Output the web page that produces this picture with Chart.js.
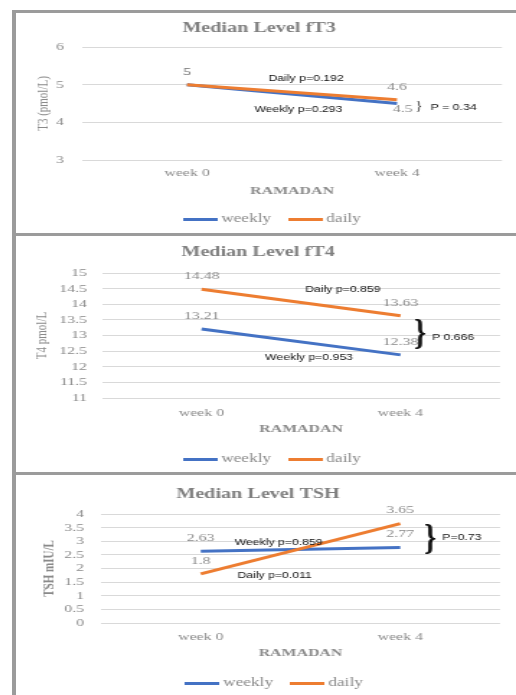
<!DOCTYPE html>
<html>
<head>
<meta charset="utf-8">
<script src="https://cdn.jsdelivr.net/npm/chart.js@4.4.1/dist/chart.umd.min.js"></script>
<style>
html, body { margin: 0; padding: 0; background: #fff; width: 516px; height: 695px; overflow: hidden; position: relative; }
.rule { position: absolute; background: #9b9b9b; }
canvas.chart { position: absolute; left: 16px; transform-origin: 0 0; transform: scaleX(1.4409); }
</style>
</head>
<body>
<div class="rule" style="left:12px;top:10px;width:4px;height:685px"></div>
<div class="rule" style="left:12px;top:10px;width:504px;height:3px"></div>
<div class="rule" style="left:12px;top:233px;width:504px;height:3px"></div>
<div class="rule" style="left:12px;top:472px;width:504px;height:3px"></div>
<canvas class="chart" id="ft3" width="347" height="222" style="top:13px"></canvas>
<canvas class="chart" id="ft4" width="347" height="238" style="top:237px"></canvas>
<canvas class="chart" id="tsh" width="347" height="224" style="top:475px"></canvas>
<script>
// data
const weeks = ['week 0', 'week 4']
const seriesNames = ['weekly', 'daily']
const ft3Weekly = [5, 4.5]
const ft3Daily = [5, 4.6]
const ft4Weekly = [13.21, 12.38]
const ft4Daily = [14.48, 13.63]
const tshWeekly = [2.63, 2.77]
const tshDaily = [1.8, 3.65]

const BLUE = '#4472C4'
const ORANGE = '#ED7D31'
const GREY = '#8a8a8a'
const SERIF = '"Liberation Serif", "Times New Roman", serif'
const SANS = '"Liberation Sans", Arial, sans-serif'

// little line swatch for the legend (wider than the legend box so the gap to the text is small)
function swatch(color) {
    const c = document.createElement('canvas')
    c.width = 24
    c.height = 3
    const g = c.getContext('2d')
    g.fillStyle = color
    g.fillRect(0, 0, 24, 3)
    return c
}

// value labels above each point (nudge lets one label sit below its point)
const valueLabels = {
    id: 'valueLabels',
    afterDatasetsDraw(chart, args, opts) {
        const ctx = chart.ctx
        ctx.save()
        ctx.font = '11px ' + SERIF
        ctx.fillStyle = GREY
        ctx.textAlign = 'center'
        ctx.textBaseline = 'middle'
        chart.data.datasets.forEach((ds, i) => {
            chart.getDatasetMeta(i).data.forEach((pt, j) => {
                const n = (opts.nudge || {})[i + ':' + j] || [0, -13]
                ctx.fillText(String(ds.data[j]), pt.x + n[0], pt.y + n[1])
            })
        })
        ctx.restore()
    }
}

// p-value notes, placed between/after the categories in data units
const notes = {
    id: 'notes',
    afterLayout(chart, args, opts) {
        // legend sits a bit right of centre in the original
        if (chart.legend && opts.legendShift) {
            chart.legend.left += opts.legendShift
            chart.legend.right += opts.legendShift
        }
    },
    afterDraw(chart, args, opts) {
        const ctx = chart.ctx
        const xs = chart.scales.x
        const ys = chart.scales.y
        const x0 = xs.getPixelForValue(0)
        const x1 = xs.getPixelForValue(1)
        ctx.save()
        ctx.fillStyle = '#111'
        ctx.textBaseline = 'middle'
        ;(opts.items || []).forEach(n => {
            const x = x0 + n.at[0] * (x1 - x0)
            const y = ys.getPixelForValue(n.at[1])
            ctx.save()
            ctx.translate(x, y)
            ctx.scale(n.squeeze || 1, 1)
            ctx.font = n.font || ('8.5px ' + SANS)
            ctx.textAlign = n.align || 'center'
            ctx.fillText(n.text, 0, 0)
            ctx.restore()
        })
        ctx.restore()
    }
}

function buildChart(id, cfg) {
    return new Chart(document.getElementById(id), {
        type: 'line',
        data: {
            labels: weeks,
            datasets: [
                { label: seriesNames[0], data: cfg.weekly, borderColor: BLUE, backgroundColor: BLUE, borderWidth: 3, pointRadius: 0, pointStyle: swatch(BLUE), order: 1 },
                { label: seriesNames[1], data: cfg.daily, borderColor: ORANGE, backgroundColor: ORANGE, borderWidth: 3, pointRadius: 0, pointStyle: swatch(ORANGE), order: 0 }
            ]
        },
        options: {
            responsive: false,
            animation: false,
            layout: { padding: { left: 0, right: cfg.padRight, top: 0, bottom: 0 } },
            scales: {
                x: {
                    offset: true,
                    grid: { display: false, drawTicks: false },
                    border: { display: false },
                    ticks: { color: GREY, font: { family: SERIF, size: 11 }, padding: cfg.xTickPad },
                    title: { display: true, text: 'RAMADAN', color: GREY, font: { family: SERIF, size: 11, weight: 'bold' }, padding: { top: 0, bottom: cfg.xTitlePad } },
                    afterFit: s => { s.height = cfg.xHeight }
                },
                y: {
                    min: cfg.min,
                    max: cfg.max,
                    grid: { color: '#d9d9d9', drawTicks: false },
                    border: { display: false },
                    ticks: {
                        stepSize: cfg.step, autoSkip: false, color: GREY,
                        font: { family: SERIF, size: 11 }, padding: cfg.yTickPad,
                        callback: v => String(v)
                    },
                    title: { display: true, text: cfg.yTitle, color: GREY, font: { family: SERIF, size: 11, weight: cfg.yBold ? 'bold' : 'normal' }, padding: { top: cfg.yTitlePad, bottom: 0 } },
                    afterFit: s => { s.width = cfg.yWidth }
                }
            },
            plugins: {
                title: { display: true, text: cfg.title, color: '#7f7f7f', font: { family: SERIF, size: 14, weight: 'bold' }, padding: { top: cfg.titleTop, bottom: cfg.titleBottom } },
                legend: {
                    position: 'bottom',
                    labels: {
                        usePointStyle: true, pointStyleWidth: 17, padding: 15.3,
                        color: GREY, font: { family: SERIF, size: 12 },
                        sort: (a, b) => a.datasetIndex - b.datasetIndex
                    }
                },
                tooltip: { enabled: false },
                valueLabels: { nudge: cfg.nudge },
                notes: { items: cfg.notes, legendShift: cfg.legendShift }
            }
        },
        plugins: [valueLabels, notes]
    })
}

buildChart('ft3', {
    title: 'Median Level fT3', yTitle: 'T3 (pmol/L)',
    weekly: ft3Weekly, daily: ft3Daily, min: 3, max: 6, step: 1,
    titleTop: 6.6, titleBottom: 10.6, xHeight: 37.7, xTickPad: 6.4, xTitlePad: -0.4,
    yWidth: 45.8, yTickPad: 12.5, yTitlePad: 12.1, padRight: 9.7, legendShift: 10.7,
    nudge: { '0:1': [4, 6] },
    notes: [
        { text: 'Daily p=0.192', at: [0.567, 5.15] },
        { text: 'Weekly p=0.293', at: [0.53, 4.33] },
        { text: '}', at: [1.105, 4.42], font: '13px ' + SERIF, squeeze: 0.7 },
        { text: 'P = 0.34', at: [1.16, 4.38], align: 'left' }
    ]
})

buildChart('ft4', {
    title: 'Median Level fT4', yTitle: 'T4 pmol/L',
    weekly: ft4Weekly, daily: ft4Daily, min: 11, max: 15, step: 0.5,
    titleTop: 6.6, titleBottom: 12.6, xHeight: 39.7, xTickPad: 8.4, xTitlePad: 2.1,
    yWidth: 59.7, yTickPad: 10.4, yTitlePad: 11.9, padRight: 11.1, legendShift: 11.4,
    notes: [
        { text: 'Daily p=0.859', at: [0.71, 14.46] },
        { text: 'Weekly p=0.953', at: [0.54, 12.28] },
        { text: '}', at: [1.098, 13.02], font: 'bold 36px ' + SERIF, squeeze: 0.6 },
        { text: 'P 0.666', at: [1.158, 12.92], align: 'left' }
    ]
})

buildChart('tsh', {
    title: 'Median Level TSH', yTitle: 'TSH mIU/L', yBold: true,
    weekly: tshWeekly, daily: tshDaily, min: 0, max: 4, step: 0.5,
    titleTop: 10.6, titleBottom: 11.6, xHeight: 38.7, xTickPad: 7.4, xTitlePad: 2.1,
    yWidth: 59.0, yTickPad: 11.8, yTitlePad: 16.3, padRight: 11.1, legendShift: 12.8,
    notes: [
        { text: 'Weekly p=0.859', at: [0.39, 2.94] },
        { text: 'Daily p=0.011', at: [0.37, 1.72] },
        { text: '}', at: [1.15, 3.05], font: 'bold 36px ' + SERIF, squeeze: 0.6 },
        { text: 'P=0.73', at: [1.21, 3.12], align: 'left' }
    ]
})
</script>
</body>
</html>
